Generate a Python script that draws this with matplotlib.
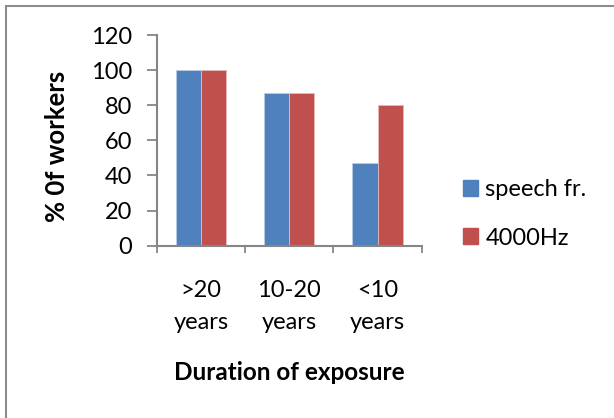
import matplotlib.pyplot as plt
from matplotlib.patches import Patch, Rectangle

plt.rcParams['font.family'] = ['Lato', 'DejaVu Sans']

groups = ['>20\nyears', '10-20\nyears', '<10\nyears']
speech = [100, 87, 47]
hz4000 = [100, 87, 80]

blue = '#4F81BD'
red = '#C0504D'
grey = '#868686'

fig = plt.figure(figsize=(6.14, 4.18), dpi=100)
ax = fig.add_axes([157 / 614, 1 - 245.7 / 418, 264.7 / 614, 210.7 / 418])

x = list(range(len(groups)))
w = 0.285
ax.bar([i - w / 2 for i in x], speech, w, color=blue, edgecolor='#B9CDE5', linewidth=0.6, label='speech fr.')
ax.bar([i + w / 2 for i in x], hz4000, w, color=red, edgecolor='#E6B9B8', linewidth=0.6, label='4000Hz')

ax.set_xlim(-0.5, len(groups) - 0.5)
ax.set_ylim(0, 120)
ax.set_yticks(range(0, 121, 20))

# boundary ticks below the axis, labels sit at the group centres
ax.set_xticks([i - 0.5 for i in range(len(groups) + 1)])
ax.set_xticklabels([])
ax.set_xticks(x, minor=True)
ax.set_xticklabels(groups, minor=True, linespacing=1.6)
ax.tick_params(axis='x', which='major', length=5, width=1.3, color=grey)
ax.tick_params(axis='x', which='minor', length=0, pad=25, labelsize=17)
ax.tick_params(axis='y', length=7, width=1.3, color=grey, labelsize=17, pad=11)

for s in ['top', 'right']:
    ax.spines[s].set_visible(False)
for s in ['left', 'bottom']:
    ax.spines[s].set_color(grey)
    ax.spines[s].set_linewidth(1.5)

fig.text(57 / 614, 1 - 146 / 418, '% 0f workers', rotation=90, ha='center', va='center',
         fontsize=18.5, fontweight='bold')
fig.text(289 / 614, 1 - 372 / 418, 'Duration of exposure', ha='center', va='center',
         fontsize=17.5, fontweight='bold')

handles = [Patch(color=blue), Patch(color=red)]
fig.legend(handles, ['speech fr.', '4000Hz'], loc='center left',
           bbox_to_anchor=(463 / 614, 1 - 214 / 418), frameon=False, fontsize=17,
           handlelength=0.65, handleheight=0.65, handletextpad=0.3, labelspacing=1.15,
           borderpad=0, borderaxespad=0)

fig.patches.append(Rectangle((5.5 / 614, -0.1), 1.2, 1 - 5.5 / 418 + 0.1, transform=fig.transFigure,
                             fill=False, edgecolor='#8C8C8C', linewidth=1.5))

fig.savefig('out.png', dpi=100)
